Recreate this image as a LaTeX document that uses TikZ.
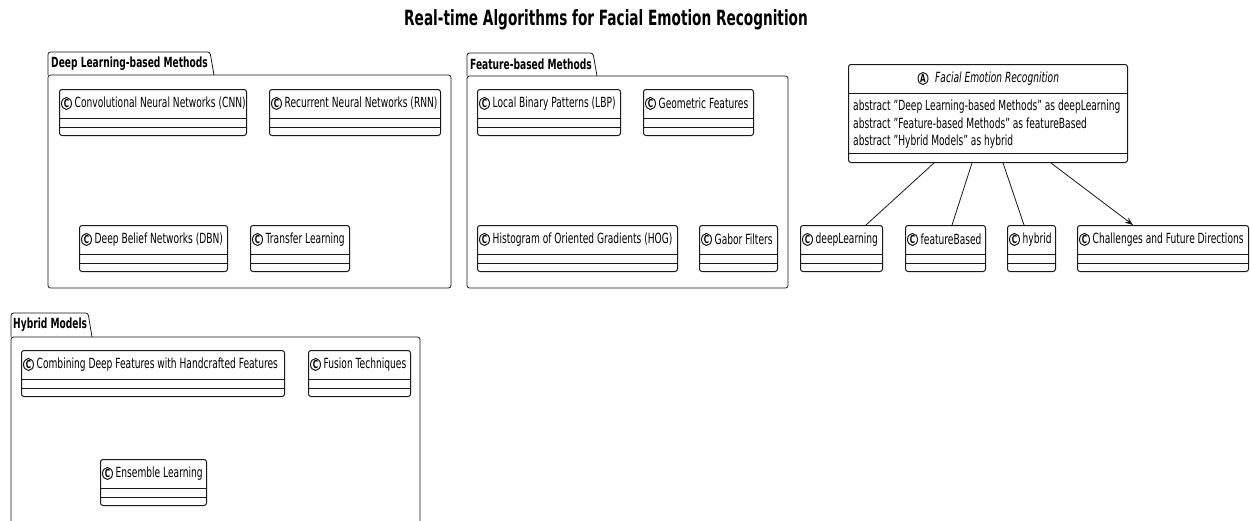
\documentclass[tikz,border=0pt]{standalone}
\usepackage{fontspec}
\setmainfont{DejaVu Sans}[FakeStretch=0.65]
\usepackage{xcolor}
\usetikzlibrary{calc,positioning,arrows.meta}

\definecolor{umlline}{HTML}{181818}

\tikzset{
  pkg/.style={draw=umlline, line width=0.8pt, rounded corners=2.5pt},
  classbox/.style={draw=umlline, line width=1pt, rounded corners=2.5pt, inner sep=0pt,
    minimum height=46pt, anchor=north west},
  classline/.style={draw=umlline, line width=1pt},
  classtxt/.style={font=\fontsize{14}{16}\selectfont, inner sep=0pt, anchor=west},
  pkgtitle/.style={font=\bfseries\fontsize{14}{16}\selectfont, inner sep=0pt, anchor=west},
  icontxt/.style={font=\bfseries\fontsize{11}{11}\selectfont, inner sep=0pt},
  assoc/.style={draw=umlline, line width=0.8pt}
}

% name, left, top, right, label
\newcommand{\umlclass}[5]{%
  \node[classbox, minimum width={(#4-#2)*1pt}] (#1) at (#2,#3) {};
  \draw[classline] ([yshift=-29pt]#1.north west) -- ([yshift=-29pt]#1.north east);
  \draw[classline] ([yshift=-38pt]#1.north west) -- ([yshift=-38pt]#1.north east);
  \draw[classline] ([shift={(7.5,14.5)}]#1.north west) ellipse (5pt and 6pt)
    node[icontxt] (#1-icon) {C};
  \node[classtxt] (#1-name) at ([shift={(15.5,14.5)}]#1.north west) {#5};
}

\begin{document}
\begin{tikzpicture}[x=1pt,y=-1pt]

\useasboundingbox (0,0) rectangle (1250,520);

%Title
\node[font=\bfseries\fontsize{21}{23}\selectfont, inner sep=0pt] (title) at (606,20)
  {Real-time Algorithms for Facial Emotion Recognition};

%Packages
\draw[pkg] (48,75) -- (48,52) -- (210,52) -- (214,75);
\draw[pkg] (48,75) rectangle (451,288);
\node[pkgtitle] (deeppkg) at (51,63.5) {Deep Learning-based Methods};

\draw[pkg] (467,76) -- (467,53) -- (593,53) -- (597,76);
\draw[pkg] (467,76) rectangle (788,288);
\node[pkgtitle] (featpkg) at (470,64.5) {Feature-based Methods};

\draw[pkg] (11,337) -- (11,313) -- (88,313) -- (92,337);
\begin{scope}
  \clip (0,0) rectangle (1250,520);
  \draw[pkg] (11,337) rectangle (420,540);
\end{scope}
\node[pkgtitle] (hybpkg) at (13,325) {Hybrid Models};

%Classes
\foreach \nm/\xa/\ya/\xb/\txt in {
  cnn/59/89/246/Convolutional Neural Networks (CNN),
  rnn/269/89/440/Recurrent Neural Networks (RNN),
  dbn/79/225/227/Deep Belief Networks (DBN),
  transfer/250/225/349/Transfer Learning,
  lbp/477/89/620/Local Binary Patterns (LBP),
  geom/643/89/753/Geometric Features,
  hog/477/225/677/Histogram of Oriented Gradients (HOG),
  gabor/699/225/777/Gabor Filters,
  dl/800/225/882/deepLearning,
  fb/905/225/985/featureBased,
  hy/1007/225/1055/hybrid,
  cfd/1077/225/1248/Challenges and Future Directions,
  combine/21/350/284/Combining Deep Features with Handcrafted Features,
  fusion/308/350/410/Fusion Techniques,
  ensemble/100/459/206/Ensemble Learning}
  \umlclass{\nm}{\xa}{\ya}{\xb}{\txt};

%Abstract class
\node[classbox, minimum width=279pt, minimum height=98pt] (fer) at (848,64) {};
\draw[classline] ([yshift=-29pt]fer.north west) -- ([yshift=-29pt]fer.north east);
\draw[classline] ([yshift=-89pt]fer.north west) -- ([yshift=-89pt]fer.north east);
\draw[classline] (923,78.5) ellipse (5pt and 6pt) node[icontxt] (fer-icon) {A};
\node[classtxt, font=\itshape\fontsize{14}{16}\selectfont] (fer-name) at (935,78.5)
  {Facial Emotion Recognition};
\node[classtxt, align=left, font=\fontsize{14}{17.5}\selectfont] (fer-attr) at (853,124.5)
  {abstract "Deep Learning-based Methods" as deepLearning\\
   abstract "Feature-based Methods" as featureBased\\
   abstract "Hybrid Models" as hybrid};

%Links
\draw[assoc] ([xshift=86pt]fer.south west) -- ([xshift=66pt]dl.north west);
\draw[assoc] ([xshift=124pt]fer.south west) -- ([xshift=47pt]fb.north west);
\draw[assoc] ([xshift=155pt]fer.south west) -- ([xshift=17pt]hy.north west);
\draw[assoc, -{Stealth[length=8pt,width=6pt]}] ([xshift=203pt]fer.south west) -- ([xshift=56pt]cfd.north west);

\end{tikzpicture}
\end{document}
